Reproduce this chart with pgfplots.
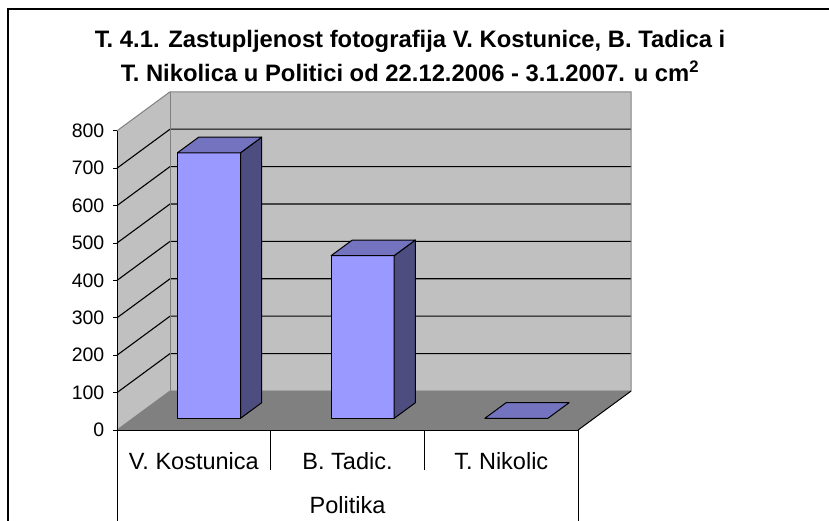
\documentclass[border=0pt]{standalone}
\usepackage{pgfplots}
\pgfplotsset{compat=1.18}
\usepackage{pgfplotstable}
\usepackage{fontspec}
\setmainfont{Liberation Sans}
\definecolor{wallc}{HTML}{C0C0C0}
\definecolor{floorc}{HTML}{808080}
\definecolor{edgec}{HTML}{808080}
\definecolor{frontc}{HTML}{9999FF}
\definecolor{topc}{HTML}{7373BF}
\definecolor{sidec}{HTML}{4D4D80}

% category index, value (cm^2)
\pgfplotstableread{
x v
0 710
1 435
2 0
}\bardata

% unit box faces: u = width fraction, w = height fraction, d = depth fraction
\pgfplotstableread{
u w d
0 0 0
1 0 0
1 1 0
0 1 0
}\frontface
\pgfplotstableread{
u w d
1 0 0
1 0 1
1 1 1
1 1 0
}\sideface
\pgfplotstableread{
u w d
0 1 0
1 1 0
1 1 1
0 1 1
}\topface

\def\DX{0.345}
\def\DY{104.3}

\newcommand{\barface}[3]{%
  \pgfplotstablegetelem{#1}{v}\of\bardata
  \let\barv\pgfplotsretval
  \pgfplotstablegetelem{#1}{x}\of\bardata
  \let\barx\pgfplotsretval
  \addplot[fill=#3, draw=black, line width=1pt, line join=round] table[
    x expr={\barx+0.29+0.41*\thisrow{u}+(0.3+0.4*\thisrow{d})*\DX},
    y expr={\barv*\thisrow{w}+(0.3+0.4*\thisrow{d})*\DY}] {#2} -- cycle;
}

\begin{document}
\begin{tikzpicture}
\useasboundingbox (0pt,0pt) rectangle (829pt,-521pt);
\draw[black, line width=1.2pt] (8pt,-530pt) -- (8pt,-9pt) -- (840pt,-9pt);

\node[font=\bfseries\fontsize{23.8}{26}\selectfont, anchor=base] at (410pt,-48pt)
  {T. 4.1. Zastupljenost fotografija V. Kostunice, B. Tadica i};
\node[font=\bfseries\fontsize{23.8}{26}\selectfont, anchor=base] at (410pt,-82pt)
  {T. Nikolica u Politici od 22.12.2006 - 3.1.2007. u cm\textsuperscript{2}};

\begin{axis}[
  at={(117pt,-430pt)}, anchor=south west,
  x=153.7pt, y=0.374pt,
  xmin=0, xmax=3, ymin=0, ymax=800,
  clip=false, axis on top,
  axis x line*=bottom, axis y line*=left,
  axis line style={-, black, line width=1pt},
  ytick={0,100,...,800},
  xtick={0.5,1.5,2.5},
  xticklabels={V. Kostunica, B. Tadic., T. Nikolic},
  tick align=outside,
  major tick length=4pt,
  xtick style={draw=none},
  ytick style={black, line width=1pt},
  /pgf/number format/assume math mode=true,
  yticklabel style={font=\fontsize{19.5}{20}\selectfont, anchor=east, inner sep=0pt, xshift=-8.5pt},
  xticklabel style={font=\fontsize{23.5}{26}\selectfont, anchor=base, inner sep=0pt, yshift=-35pt},
  xlabel={Politika},
  xlabel style={font=\fontsize{23.5}{26}\selectfont, at={(axis description cs:0.5,0)}, anchor=base, inner sep=0pt, yshift=-83pt},
]
% walls and floor
\fill[wallc] (axis cs:0.345,104.3) rectangle (axis cs:3.345,904.3);
\fill[wallc] (axis cs:0,0) -- (axis cs:0.345,104.3) -- (axis cs:0.345,904.3) -- (axis cs:0,800) -- cycle;
\fill[floorc] (axis cs:0,0) -- (axis cs:3,0) -- (axis cs:3.345,104.3) -- (axis cs:0.345,104.3) -- cycle;
% gridlines
\pgfplotsinvokeforeach{100,200,300,400,500,600,700}{
  \draw[black, line width=1.1pt] (axis cs:0,#1) -- ++(axis direction cs:0.345,104.3) -- ++(axis direction cs:3,0);
}
% edges
\draw[edgec, line width=0.9pt] (axis cs:0,0) -- (axis cs:0.345,104.3) -- (axis cs:3.345,104.3);
\draw[edgec, line width=1pt] (axis cs:0,800) -- (axis cs:0.345,904.3) -- (axis cs:3.345,904.3) -- (axis cs:3.345,104.3);
\draw[edgec, line width=1pt] (axis cs:0.345,104.3) -- (axis cs:0.345,904.3);
\draw[black, line width=1pt] (axis cs:3,0) -- (axis cs:3.345,104.3);
% category table lines
\draw[black, line width=1pt] (axis cs:0,0) -- (axis cs:0,-260);
\draw[black, line width=1pt] (axis cs:3,0) -- (axis cs:3,-260);
\draw[black, line width=1pt] (axis cs:1,0) -- (axis cs:1,-107);
\draw[black, line width=1pt] (axis cs:2,0) -- (axis cs:2,-107);
% bars
\barface{0}{\frontface}{frontc}
\barface{0}{\sideface}{sidec}
\barface{0}{\topface}{topc}
\barface{1}{\frontface}{frontc}
\barface{1}{\sideface}{sidec}
\barface{1}{\topface}{topc}
\barface{2}{\topface}{topc}
\end{axis}
\end{tikzpicture}
\end{document}
